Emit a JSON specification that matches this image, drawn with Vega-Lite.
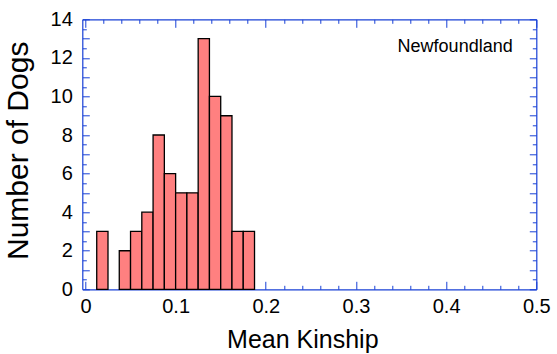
{
  "$schema": "https://vega.github.io/schema/vega-lite/v6.json",
  "autosize": {"type": "none"},
  "width": 454,
  "height": 270,
  "padding": {"left": 82.3, "top": 19.3, "right": 20.7, "bottom": 64.7},
  "background": "white",
  "config": {"view": {"stroke": null}, "font": "Liberation Sans"},
  "data": {"values": [
    {"bin_start": 0.0125, "bin_end": 0.025, "count": 3},
    {"bin_start": 0.0375, "bin_end": 0.05, "count": 2},
    {"bin_start": 0.05, "bin_end": 0.0625, "count": 3},
    {"bin_start": 0.0625, "bin_end": 0.075, "count": 4},
    {"bin_start": 0.075, "bin_end": 0.0875, "count": 8},
    {"bin_start": 0.0875, "bin_end": 0.1, "count": 6},
    {"bin_start": 0.1, "bin_end": 0.1125, "count": 5},
    {"bin_start": 0.1125, "bin_end": 0.125, "count": 5},
    {"bin_start": 0.125, "bin_end": 0.1375, "count": 13},
    {"bin_start": 0.1375, "bin_end": 0.15, "count": 10},
    {"bin_start": 0.15, "bin_end": 0.1625, "count": 9},
    {"bin_start": 0.1625, "bin_end": 0.175, "count": 3},
    {"bin_start": 0.175, "bin_end": 0.1875, "count": 3}
  ]},
  "layer": [
    {
      "mark": {"type": "bar", "fill": "#ff8080", "stroke": "black", "strokeWidth": 1.3, "cornerRadius": 0},
      "encoding": {
        "x": {"field": "bin_start", "type": "quantitative",
          "scale": {"domain": [-0.0035, 0.5], "nice": false, "zero": false},
          "axis": {
            "orient": "bottom",
            "values": [0,0.02,0.04,0.06,0.08,0.1,0.12,0.14,0.16,0.18,0.2,0.22,0.24,0.26,0.28,0.3,0.32,0.34,0.36,0.38,0.4,0.42,0.44,0.46,0.48,0.5],
            "tickSize": {"condition": {"test": "abs(datum.value*10-round(datum.value*10))<1e-6", "value": -8}, "value": -4},
            "tickColor": "#1840d6", "tickWidth": 1, "domainColor": "#1840d6", "domainWidth": 1.2,
            "labelExpr": "abs(datum.value*10-round(datum.value*10))<1e-6 ? format(datum.value,'~g') : ''",
            "labelFontSize": 20, "labelColor": "black", "labelPadding": 15.5, "labelOverlap": false, "labelFlush": false, "labelBound": false,
            "grid": false,
            "title": "Mean Kinship", "titleFontSize": 25, "titleFontWeight": "normal", "titleColor": "black",
            "titleBaseline": "alphabetic", "titleY": 58, "titleX": 220
          }
        },
        "x2": {"field": "bin_end"},
        "y": {"field": "count", "type": "quantitative",
          "scale": {"domain": [0, 14], "nice": false},
          "axis": {
            "orient": "left",
            "values": [0,0.5,1,1.5,2,2.5,3,3.5,4,4.5,5,5.5,6,6.5,7,7.5,8,8.5,9,9.5,10,10.5,11,11.5,12,12.5,13,13.5,14],
            "tickSize": {"condition": {"test": "datum.value % 1 == 0", "value": -7}, "value": -4},
            "tickColor": "#1840d6", "tickWidth": 1, "domainColor": "#1840d6", "domainWidth": 1.2,
            "labelExpr": "datum.value % 2 == 0 ? format(datum.value,'d') : ''",
            "labelFontSize": 20, "labelColor": "black", "labelPadding": 17, "labelOverlap": false, "labelFlush": false, "labelBound": false,
            "grid": false,
            "title": "Number of Dogs", "titleFontSize": 30, "titleFontWeight": "normal", "titleColor": "black",
            "titleBaseline": "alphabetic", "titleAngle": -90, "titleX": -55, "titleY": 131
          }
        },
        "y2": {"datum": 0}
      }
    },
    {
      "data": {"values": [{"label": "Newfoundland", "x": 0.41, "y": 12.3}]},
      "mark": {"type": "text", "fontSize": 18, "color": "black", "align": "center", "baseline": "alphabetic"},
      "encoding": {
        "text": {"field": "label"},
        "x": {"field": "x", "type": "quantitative",
          "axis": {
            "orient": "top",
            "values": [0,0.02,0.04,0.06,0.08,0.1,0.12,0.14,0.16,0.18,0.2,0.22,0.24,0.26,0.28,0.3,0.32,0.34,0.36,0.38,0.4,0.42,0.44,0.46,0.48,0.5],
            "tickSize": {"condition": {"test": "abs(datum.value*10-round(datum.value*10))<1e-6", "value": -8}, "value": -4},
            "tickColor": "#1840d6", "tickWidth": 1, "domainColor": "#1840d6", "domainWidth": 1.2,
            "labels": false, "grid": false, "title": null
          }
        },
        "y": {"field": "y", "type": "quantitative",
          "axis": {
            "orient": "right",
            "values": [0,0.5,1,1.5,2,2.5,3,3.5,4,4.5,5,5.5,6,6.5,7,7.5,8,8.5,9,9.5,10,10.5,11,11.5,12,12.5,13,13.5,14],
            "tickSize": {"condition": {"test": "datum.value % 1 == 0", "value": -7}, "value": -4},
            "tickColor": "#1840d6", "tickWidth": 1, "domainColor": "#1840d6", "domainWidth": 1.2,
            "labels": false, "grid": false, "title": null
          }
        }
      }
    }
  ]
}
